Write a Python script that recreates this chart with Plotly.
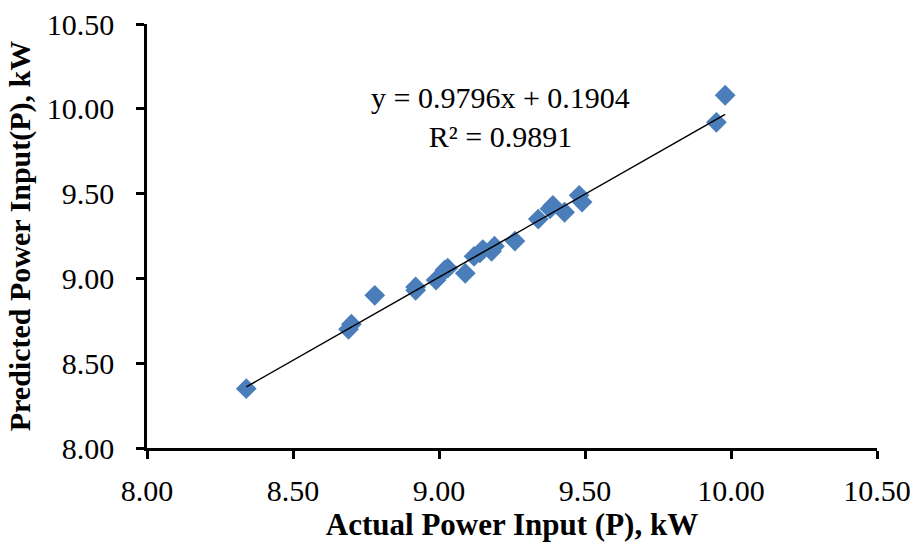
import plotly.graph_objects as go

actual = [8.34, 8.69, 8.70, 8.78, 8.92, 8.92, 8.99, 9.02, 9.03, 9.09, 9.12, 9.14, 9.15, 9.18, 9.19,
          9.26, 9.34, 9.38, 9.39, 9.43, 9.48, 9.49, 9.95, 9.98]
predicted = [8.35, 8.70, 8.73, 8.90, 8.93, 8.95, 8.99, 9.05, 9.06, 9.03, 9.13, 9.15, 9.17, 9.16, 9.19,
             9.22, 9.35, 9.41, 9.43, 9.39, 9.49, 9.45, 9.92, 10.08]

slope = 0.9796
intercept = 0.1904
r2 = 0.9891

x_ticks = [8.0, 8.5, 9.0, 9.5, 10.0, 10.5]
y_ticks = [8.0, 8.5, 9.0, 9.5, 10.0, 10.5]

xmin, xmax = min(actual), max(actual)
fit_x = [xmin, xmax]
fit_y = [slope * v + intercept for v in fit_x]

FONT = "Liberation Serif, Times New Roman, serif"

fig = go.Figure()
fig.add_trace(go.Scatter(
    x=actual, y=predicted, mode="markers",
    marker=dict(symbol="diamond", size=16, color="#4A7EBB", line=dict(width=0)),
    showlegend=False, hoverinfo="x+y"))
fig.add_trace(go.Scatter(
    x=fit_x, y=fit_y, mode="lines",
    line=dict(color="black", width=1.5),
    showlegend=False, hoverinfo="skip"))

fig.add_annotation(
    x=9.21, y=9.95, xref="x", yref="y",
    text=f"y = {slope}x + {intercept}<br>R² = {r2}",
    showarrow=False, align="center",
    font=dict(family=FONT, size=30, color="black"))

fig.update_xaxes(
    range=[8.0, 10.5], tickvals=x_ticks, ticktext=[f"{v:.2f}" for v in x_ticks],
    showline=True, linecolor="black", linewidth=2.5,
    ticks="outside", ticklen=8, tickwidth=2.5, tickcolor="black",
    showgrid=False, zeroline=False, ticklabelstandoff=6,
    tickfont=dict(family=FONT, size=30, color="black"),
    title=dict(text="<b>Actual Power Input (P), kW</b>",
               font=dict(family=FONT, size=31, color="black"), standoff=8))
fig.update_yaxes(
    range=[8.0, 10.5], tickvals=y_ticks, ticktext=[f"{v:.2f}" for v in y_ticks],
    showline=True, linecolor="black", linewidth=2.5,
    ticks="outside", ticklen=8, tickwidth=2.5, tickcolor="black",
    showgrid=False, zeroline=False, ticklabelstandoff=16,
    tickfont=dict(family=FONT, size=30, color="black"),
    title=dict(text="<b>Predicted Power Input(P), kW</b>",
               font=dict(family=FONT, size=30, color="black"), standoff=8))

fig.update_layout(
    width=916, height=550, autosize=False,
    margin=dict(l=147, r=39, t=24, b=102, autoexpand=False),
    paper_bgcolor="white", plot_bgcolor="white")

fig.write_html("out.html", config={"displayModeBar": False},
               post_script="document.body.style.margin='0';")
